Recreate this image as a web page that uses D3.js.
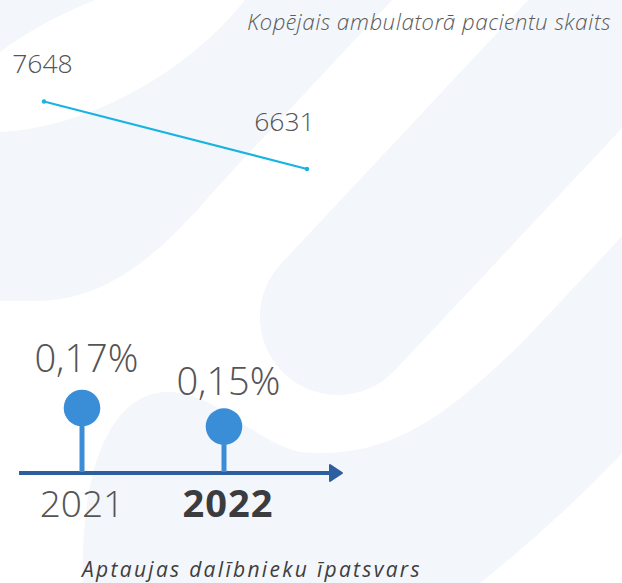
<!DOCTYPE html>
<html>
<head>
<meta charset="utf-8">
<script src="https://cdn.jsdelivr.net/npm/d3@7"></script>
<style>
  body { margin: 0; background: #ffffff; }
  svg { display: block; }
</style>
</head>
<body>
<svg id="chart"></svg>
<script>
// Data: total ambulatory patients
var patientYears = ["2021", "2022"];
var patientCounts = [7648, 6631];

// Data: share of survey participants (in %)
var surveyYears = ["2021", "2022"];
var surveyShares = [0.17, 0.15];
var surveyLabels = ["0,17%", "0,15%"];

var width = 622;
var height = 583;

var lightFont = "'Open Sans Light', 'Open Sans', sans-serif";

var svg = d3.select("#chart")
  .attr("width", width)
  .attr("height", height);

// Light background swooshes
var bg = svg.append("g").attr("class", "background");

bg.append("rect")
  .attr("width", width)
  .attr("height", height)
  .attr("fill", "#ffffff");

var swooshColor = "#f3f6fa";

bg.append("path")
  .attr("d", "M0,0 L95,0 Q40,22 0,52 Z")
  .attr("fill", swooshColor);

bg.append("path")
  .attr("d", "M0,132 C90,128 190,70 245,0 L392,0 L235,168 C185,222 130,298 40,301 L0,301 Z")
  .attr("fill", swooshColor);

bg.append("path")
  .attr("d", "M338,317 L680,-48")
  .attr("stroke", swooshColor)
  .attr("stroke-width", 156)
  .attr("stroke-linecap", "round")
  .attr("fill", "none");

bg.append("path")
  .attr("d", "M83,583 C80,470 110,395 165,392 C215,390 250,440 300,452 C400,462 460,400 520,345 L640,217 L640,435 Q560,520 480,583 Z")
  .attr("fill", swooshColor);

// Top title
svg.append("text")
  .attr("x", 610.5)
  .attr("y", 30)
  .attr("text-anchor", "end")
  .style("font-family", lightFont)
  .style("font-style", "italic")
  .style("font-weight", 300)
  .style("font-size", "22.5px")
  .style("letter-spacing", "0.5px")
  .style("fill", "#5c5c5c")
  .text("Kopējais ambulatorā pacientu skaits");

// Scales for the line chart
var xLine = d3.scalePoint()
  .domain(patientYears)
  .range([44, 307]);

var yLine = d3.scaleLinear()
  .domain([6000, 8000])
  .range([210.9, 78.1]);

// label positions follow their own small scales
var xLineLabel = d3.scalePoint()
  .domain(patientYears)
  .range([42.5, 284.5]);

var yLineLabel = d3.scaleLinear()
  .domain([6631, 7648])
  .range([131, 73]);

var lineData = patientYears.map(function(year, i){
  return {"Year": year, "Value": patientCounts[i]};
});

var line = d3.line()
  .x(function(d) {return xLine(d.Year)})
  .y(function(d) {return yLine(d.Value)});

svg.append("path")
  .datum(lineData)
  .attr("fill", "none")
  .attr("stroke", "#17b3e2")
  .attr("stroke-width", 2)
  .attr("stroke-linecap", "round")
  .attr("d", line);

svg.selectAll(".lineDot")
  .data(lineData)
  .enter()
  .append("circle")
  .attr("class", "lineDot")
  .attr("cx", function(d) {return xLine(d.Year)})
  .attr("cy", function(d) {return yLine(d.Value)})
  .attr("r", 2.2)
  .attr("fill", "#17b3e2");

svg.selectAll(".lineLabel")
  .data(lineData)
  .enter()
  .append("text")
  .attr("class", "lineLabel")
  .attr("x", function(d) {return xLineLabel(d.Year)})
  .attr("y", function(d) {return yLineLabel(d.Value)})
  .attr("text-anchor", "middle")
  .style("font-family", lightFont)
  .style("font-weight", 300)
  .style("font-size", "26.5px")
  .style("fill", "#555555")
  .text(function(d) {return d.Value});

// Scales for the lollipop chart
var axisY = 473;

var xPin = d3.scalePoint()
  .domain(surveyYears)
  .range([82, 224]);

var yPin = d3.scaleLinear()
  .domain([0.10, 0.20])
  .range([axisY, 380.1]);

var yPinLabel = d3.scaleLinear()
  .domain([0.10, 0.20])
  .range([452.5, 337.5]);

var pinData = surveyYears.map(function(year, i){
  return {"Year": year, "Value": surveyShares[i], "Label": surveyLabels[i]};
});

// Axis with arrow
svg.append("line")
  .attr("x1", 19)
  .attr("x2", 334)
  .attr("y1", axisY)
  .attr("y2", axisY)
  .attr("stroke", "#2d5e9f")
  .attr("stroke-width", 4);

svg.append("path")
  .attr("d", "M330,465 L342," + axisY + " L330,481 Z")
  .attr("fill", "#2d5e9f")
  .attr("stroke", "#2d5e9f")
  .attr("stroke-width", 2)
  .attr("stroke-linejoin", "round");

// Stems
svg.selectAll(".stem")
  .data(pinData)
  .enter()
  .append("line")
  .attr("class", "stem")
  .attr("x1", function(d) {return xPin(d.Year)})
  .attr("x2", function(d) {return xPin(d.Year)})
  .attr("y1", function(d) {return yPin(d.Value)})
  .attr("y2", axisY - 1)
  .attr("stroke", "#3b8dd6")
  .attr("stroke-width", 5);

// Heads
svg.selectAll(".pin")
  .data(pinData)
  .enter()
  .append("circle")
  .attr("class", "pin")
  .attr("cx", function(d) {return xPin(d.Year)})
  .attr("cy", function(d) {return yPin(d.Value)})
  .attr("r", 18.3)
  .attr("fill", "#3a8ed8");

// Value labels
svg.selectAll(".pinLabel")
  .data(pinData)
  .enter()
  .append("text")
  .attr("class", "pinLabel")
  .attr("x", function(d) {return xPin(d.Year) + 4.5})
  .attr("y", function(d) {return yPinLabel(d.Value)})
  .attr("text-anchor", "middle")
  .style("font-family", lightFont)
  .style("font-weight", 300)
  .style("font-size", "38px")
  .style("fill", "#555555")
  .text(function(d) {return d.Label});

// Year labels, last year in bold
svg.selectAll(".yearLabel")
  .data(pinData)
  .enter()
  .append("text")
  .attr("class", "yearLabel")
  .attr("x", function(d) {return xPin(d.Year) + (d.Year == "2022" ? 4 : 0)})
  .attr("y", 517)
  .attr("text-anchor", "middle")
  .style("font-family", function(d) {return d.Year == "2022" ? "'Open Sans', sans-serif" : lightFont})
  .style("font-weight", function(d) {return d.Year == "2022" ? 700 : 300})
  .style("font-size", function(d) {return d.Year == "2022" ? "38px" : "37px"})
  .style("letter-spacing", function(d) {return d.Year == "2022" ? "1px" : "0px"})
  .style("fill", function(d) {return d.Year == "2022" ? "#3a3c40" : "#555555"})
  .text(function(d) {return d.Year});

// Bottom title
svg.append("text")
  .attr("x", 82)
  .attr("y", 577)
  .style("font-family", "'Open Sans', sans-serif")
  .style("font-style", "italic")
  .style("font-size", "21px")
  .style("letter-spacing", "2.3px")
  .style("fill", "#3e3e3e")
  .text("Aptaujas dalībnieku īpatsvars");
</script>
</body>
</html>
